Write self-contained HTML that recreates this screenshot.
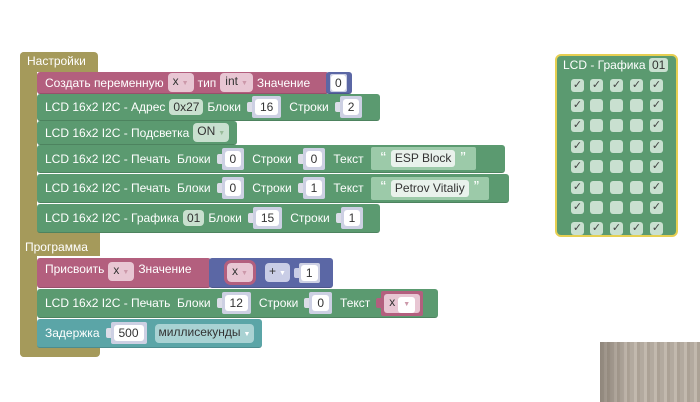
<!DOCTYPE html>
<html><head><meta charset="utf-8"><style>
body{margin:0;width:700px;height:402px;background:#fff;position:relative;overflow:hidden;font-family:"Liberation Sans","DejaVu Sans",sans-serif;font-size:12px;color:#fff}
.a{position:absolute;box-sizing:border-box}
.blk{position:absolute;box-sizing:border-box;display:flex;align-items:center;padding-left:8px;white-space:nowrap;border-radius:3px;border-bottom:1px solid rgba(0,0,0,.15)}
.g{background:#5b9a70}.p{background:#b35f7e}.bl{background:#5b67a5}.tl{background:#5ba5a7}.o{background:#a59a5b}
.f{display:inline-block;background:rgba(255,255,255,.35);color:#fff;border-radius:4px;padding:1px 4px;margin:0 4px;line-height:14px}
.fd{display:inline-block;background:#c9e0cf;color:#333;border-radius:4px;padding:1px 4px;margin:0 4px;line-height:14px}
.fp{display:inline-block;background:#e8c6d3;color:#333;border-radius:4px;padding:1px 5px;margin:0 4px;line-height:14px}
.dd{font-size:7px;color:#fff;margin-left:3px}
.n{display:inline-flex;align-items:center;margin:0 8px 0 6px;position:relative}
.n .s{width:5px;height:10px;background:#dcdde8;border-radius:2px 0 0 2px}
.n .v{background:#cdd0e3;color:#333;padding:3px 3px;border-radius:2px}
.n .v span{background:#fff;padding:0 5px;border-radius:3px;line-height:16px;display:inline-block}
.txt{display:inline-flex;align-items:center;background:#9ccaa9;color:#333;padding:3px 5px;border-radius:2px;margin-left:7px}
.txt b{font-weight:normal;color:#fff;font-size:16px;margin:0 5px;line-height:14px}
.txt span{background:#e9f2ec;padding:0 4px;border-radius:3px;line-height:17px}
.cb{position:absolute;width:13px;height:13px;background:#c9e0d0;border-radius:3px;color:#444;font-size:11px;line-height:13px;text-align:center}
</style></head><body>
<div class="a o" style="left:20px;top:52px;width:17px;height:305px;border-radius:4px 0 0 4px"></div>
<div class="a o" style="left:20px;top:52px;width:78px;height:20px;border-radius:4px 4px 0 0"></div>
<div class="a" style="left:27px;top:54px">Настройки</div>
<div class="a o" style="left:20px;top:229px;width:80px;height:27px"></div>
<div class="a" style="left:25px;top:240px">Программа</div>
<div class="a o" style="left:20px;top:345px;width:80px;height:12px;border-radius:0 0 4px 4px"></div>

<div class="blk p" style="left:37px;top:72px;width:292px;height:22px">Создать переменную<span class="fp">x<span class="dd" style="color:#c9a">▼</span></span>тип<span class="fp">int<span class="dd" style="color:#c9a">▼</span></span>Значение</div>
<div class="blk bl" style="left:326px;top:72px;width:26px;height:22px;padding-left:4px"><span class="n" style="margin:0"><span class="v" style="padding:1px 1px"><span style="padding:0 4px">0</span></span></span></div>
<div class="blk g" style="left:37px;top:94px;width:343px;height:27px">LCD 16x2 I2C - Адрес<span class="fd">0x27</span>Блоки<span class="n"><span class="s"></span><span class="v"><span>16</span></span></span>Строки<span class="n"><span class="s"></span><span class="v"><span>2</span></span></span></div>
<div class="blk g" style="left:37px;top:121px;width:200px;height:24px">LCD 16x2 I2C - Подсветка<span class="fd">ON<span class="dd" style="color:#9b9">▼</span></span></div>
<div class="blk g" style="left:37px;top:145px;width:468px;height:28px">LCD 16x2 I2C - Печать&nbsp; Блоки<span class="n"><span class="s"></span><span class="v"><span>0</span></span></span>Строки<span class="n"><span class="s"></span><span class="v"><span>0</span></span></span>Текст<span class="txt"><b>“</b><span>ESP Block</span><b>”</b></span></div>
<div class="blk g" style="left:37px;top:174px;width:472px;height:29px">LCD 16x2 I2C - Печать&nbsp; Блоки<span class="n"><span class="s"></span><span class="v"><span>0</span></span></span>Строки<span class="n"><span class="s"></span><span class="v"><span>1</span></span></span>Текст<span class="txt"><b>“</b><span>Petrov Vitaliy</span><b>”</b></span></div>
<div class="blk g" style="left:37px;top:204px;width:343px;height:29px">LCD 16x2 I2C - Графика<span class="fd">01</span>Блоки<span class="n"><span class="s"></span><span class="v"><span>15</span></span></span>Строки<span class="n"><span class="s"></span><span class="v"><span>1</span></span></span></div>
<div class="blk p" style="left:37px;top:258px;width:174px;height:30px;align-items:flex-start;padding-top:4px">Присвоить<span class="fp">x<span class="dd" style="color:#c9a">▼</span></span>Значение</div>
<div class="blk bl" style="left:209px;top:258px;width:124px;height:30px;padding-left:12px"><span class="fp" style="outline:3px solid #b35f7e;margin-left:6px">x<span class="dd" style="color:#c9a">▼</span></span><span class="f" style="background:#c9cde6;color:#333;margin-left:8px">+<span class="dd" style="color:#fff">▼</span></span><span class="n" style="margin-left:0"><span class="s" style="background:#c9cde6"></span><span class="v" style="padding:2px"><span>1</span></span></span></div>
<div class="blk g" style="left:37px;top:289px;width:401px;height:29px">LCD 16x2 I2C - Печать&nbsp; Блоки<span class="n"><span class="s"></span><span class="v"><span>12</span></span></span>Строки<span class="n"><span class="s"></span><span class="v"><span>0</span></span></span>Текст<span class="n"><span class="s" style="background:#b35f7e"></span><span class="v" style="background:#b35f7e;padding:3px"><span class="fp" style="margin:0;background:#e8c6d3">x<span class="dd" style="color:#c9a">▼</span></span></span></span></div>
<div class="blk tl" style="left:37px;top:319px;width:225px;height:29px">Задержка<span class="n"><span class="s"></span><span class="v"><span>500</span></span></span><span class="f" style="background:#a9d2d3;color:#333;margin-left:0">миллисекунды<span class="dd">▼</span></span></div>

<div class="a" style="left:555px;top:54px;width:123px;height:183px;background:#5b9a70;border:2px solid #e6cf52;border-radius:6px"></div>
<div class="a" style="left:563px;top:58px">LCD - Графика <span style="background:#c9e0d0;color:#333;border-radius:3px;padding:0 3px">01</span></div>
<div id="g"></div>
<script>
var xs=[571,590,610,630,650],ys=[79,99,119,140,160,181,201,222],h='';
for(var r=0;r<8;r++)for(var c=0;c<5;c++){var on=(r==0||r==7||c==0||c==4);h+='<div class="cb" style="left:'+xs[c]+'px;top:'+ys[r]+'px">'+(on?'✓':'')+'</div>';}
document.getElementById('g').innerHTML=h;
</script>
<div class="a" style="left:600px;top:342px;width:100px;height:60px;background:linear-gradient(90deg,rgba(110,100,90,.5),rgba(0,0,0,0) 30%),repeating-linear-gradient(90deg,#b3aa9f 0 4px,#c2b9ae 4px 7px,#aca296 7px 10px);"></div>
</body></html>
